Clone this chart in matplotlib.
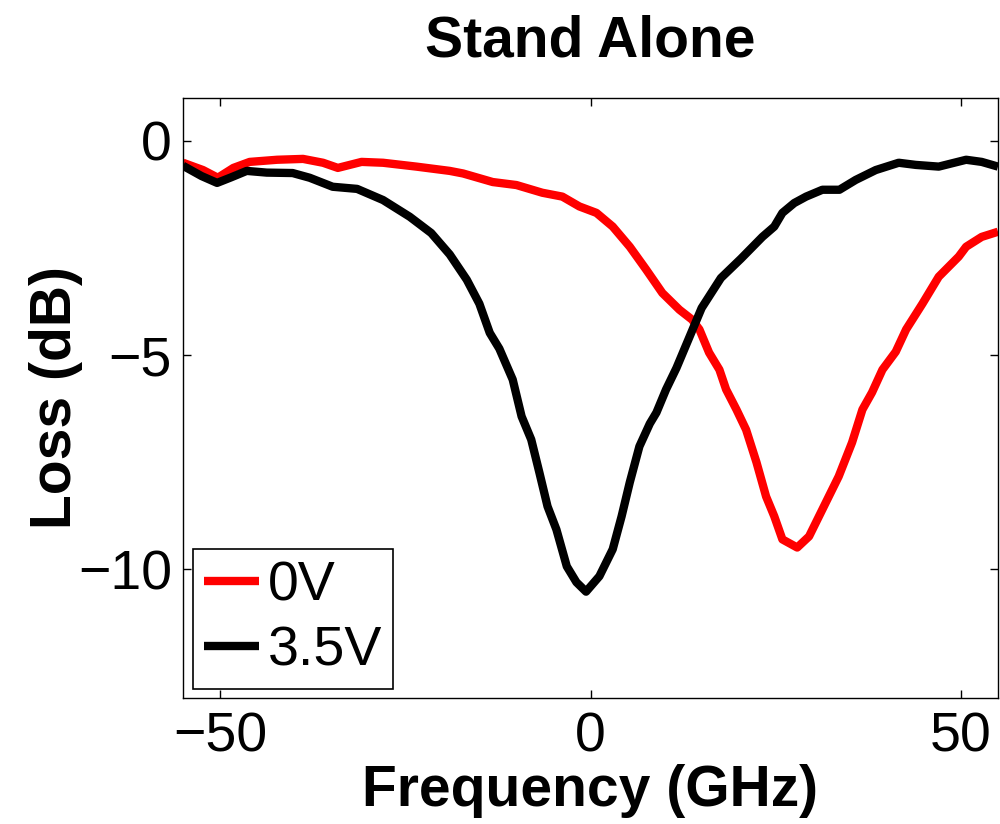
import numpy as np
import matplotlib
matplotlib.use("Agg")
import matplotlib.pyplot as plt

plt.rcParams["font.family"] = ["Liberation Sans", "DejaVu Sans"]

# 3.5V trace (GHz, dB)
freq_35v = [-55, -52.5, -50.4, -48.5, -46.4, -43.7, -40.2, -37.9, -34.8, -31.5, -28, -24.4,
            -21.5, -19, -16.7, -15, -13.6, -12.3, -10.5, -9.3, -8.0, -6.9, -5.8, -4.6, -3.2,
            -1.9, -0.6, 1.2, 3.0, 4.2, 5.3, 6.6, 8.0, 8.9, 10.2, 11.6, 13.3, 15.0, 17.6, 20.3,
            23.2, 24.8, 25.9, 27.5, 29.1, 31.3, 33.6, 35.8, 38.5, 41.6, 43.9, 47, 50.7, 52.8, 55]
loss_35v = [-0.58, -0.82, -0.98, -0.85, -0.70, -0.74, -0.75, -0.86, -1.07, -1.12, -1.38, -1.77,
            -2.15, -2.65, -3.24, -3.8, -4.48, -4.85, -5.57, -6.43, -6.97, -7.74, -8.53, -9.07, -9.93,
            -10.3, -10.52, -10.16, -9.53, -8.76, -7.97, -7.13, -6.6, -6.34, -5.8, -5.3, -4.6, -3.9,
            -3.2, -2.75, -2.24, -2.0, -1.68, -1.45, -1.3, -1.14, -1.14, -0.91, -0.68, -0.51, -0.56,
            -0.6, -0.44, -0.49, -0.6]

# 0V trace (GHz, dB)
freq_0v = [-55, -52.3, -50.3, -48.2, -46, -42.3, -38.8, -36.1, -34.1, -32.5, -30.9, -28, -23.5,
           -19, -17.2, -13.2, -10, -6.5, -3.8, -1.5, 0.8, 3, 5.3, 7.5, 9.7, 12, 13.7, 14.7, 16,
           17.4, 18.3, 19.7, 21, 22.4, 23.7, 24.8, 25.9, 27.9, 29.5, 31.3, 33.5, 35.3, 36.7, 38,
           39.4, 41.2, 42.6, 44.8, 47, 49.7, 50.7, 52.8, 55]
loss_0v = [-0.51, -0.68, -0.86, -0.63, -0.49, -0.44, -0.42, -0.51, -0.63, -0.56, -0.49, -0.51, -0.6,
           -0.7, -0.76, -0.96, -1.03, -1.21, -1.3, -1.53, -1.68, -2.0, -2.47, -3.0, -3.55, -3.94,
           -4.17, -4.4, -4.94, -5.34, -5.8, -6.27, -6.74, -7.5, -8.3, -8.76, -9.3, -9.49, -9.23,
           -8.6, -7.83, -7.04, -6.27, -5.87, -5.34, -4.92, -4.4, -3.8, -3.17, -2.7, -2.47, -2.24,
           -2.12]

x_ticks = [-50, 0, 50]
y_ticks = [0, -5, -10]

fig = plt.figure(figsize=(10, 8.24), dpi=100)
ax = fig.add_axes([0.183, 0.153, 0.815, 0.728])

line_kw = dict(linewidth=6, solid_joinstyle="round", solid_capstyle="butt")
ax.plot(freq_0v, loss_0v, color="#FF0000", label="0V", **line_kw)
ax.plot(freq_35v, loss_35v, color="black", label="3.5V", **line_kw)

ax.set_xlim(-55, 55)
ax.set_ylim(-13, 1)
ax.set_xticks(x_ticks)
ax.set_yticks(y_ticks)
ax.set_xticklabels(["\u221250", "0", "50"])
ax.set_yticklabels(["0", "\u22125", "\u221210"])
ax.tick_params(direction="in", length=6, width=1, top=True, right=True,
               labelsize=40, pad=10)
ax.tick_params(axis="y", pad=8)
for s in ax.spines.values():
    s.set_linewidth(1)

ax.set_xlabel("Frequency (GHz)", fontsize=41, fontweight="bold", labelpad=0)
ax.set_ylabel("Loss (dB)", fontsize=41, fontweight="bold", labelpad=-4)
ax.set_title("Stand Alone", fontsize=41, fontweight="bold", pad=30)

leg = ax.legend(loc="lower left", bbox_to_anchor=(0.012, 0.015), borderaxespad=0,
                fontsize=40, handlelength=1.0, handletextpad=0.15, borderpad=0.2,
                labelspacing=0.24, fancybox=False, framealpha=1, edgecolor="black")
leg.get_frame().set_linewidth(1.2)

plt.savefig("out.png", dpi=100, facecolor="white")
plt.close(fig)
